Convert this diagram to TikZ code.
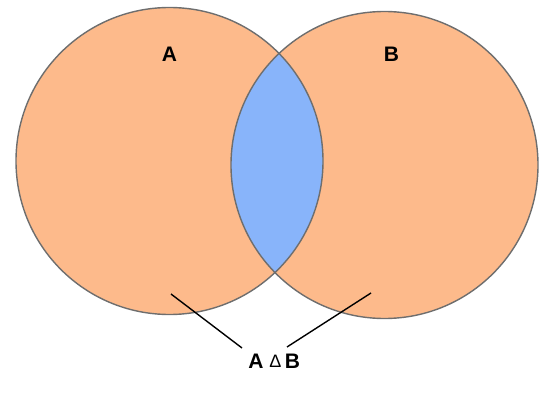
\documentclass[tikz,border=0pt]{standalone}
\usepackage{fontspec}
\setmainfont{Liberation Sans}
\definecolor{setorange}{HTML}{FDBA8B}
\definecolor{setblue}{HTML}{88B4FA}
\definecolor{rimgray}{HTML}{6E6E6E}
\begin{document}
\begin{tikzpicture}[x=1pt,y=-1pt,
  rim/.style={draw=rimgray,line width=1.4pt},
  setlabel/.style={font=\bfseries\fontsize{21}{21}\selectfont,anchor=base,inner sep=0pt},
  pointer/.style={draw=black,line width=1.4pt}]
\useasboundingbox (0,0) rectangle (550,417);
\coordinate (ca) at (169.5,161);
\coordinate (cb) at (384.5,165);
\fill[setorange] (ca) circle (153.5);
\fill[setorange] (cb) circle (153.5);
\begin{scope}
  \clip (ca) circle (153.5);
  \fill[setblue] (cb) circle (153.5);
\end{scope}
\draw[rim] (ca) circle (153.5);
\draw[rim] (cb) circle (153.5);
\node[setlabel] (la) at (169.5,62) {A};
\node[setlabel] (lb) at (391.5,62) {B};
\node[setlabel] (sa) at (256,369) {A};
\node[anchor=base,inner sep=0pt,font=\fontsize{18}{18}\selectfont] (sd) at (275.5,368) {Δ};
\node[setlabel] (sb) at (292.5,369) {B};
\coordinate (pa) at (171,294);
\coordinate (pb) at (371,293);
\coordinate (ea) at (242,348);
\coordinate (eb) at (287,347);
\draw[pointer] (pa) -- (ea);
\draw[pointer] (pb) -- (eb);
\end{tikzpicture}
\end{document}
